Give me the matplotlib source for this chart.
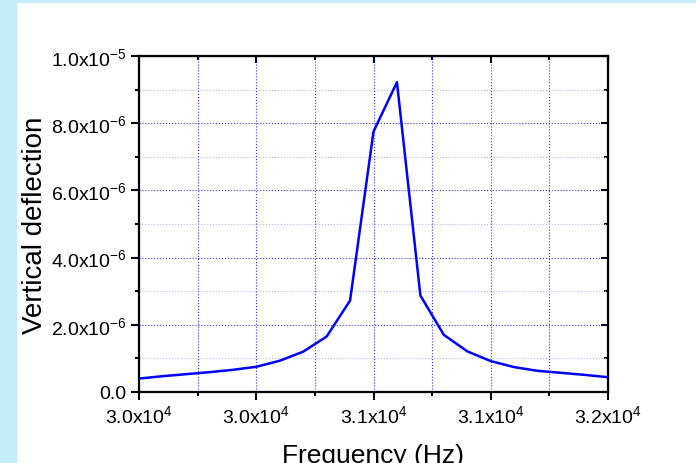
import numpy as np
import matplotlib.pyplot as plt
from matplotlib.patches import Rectangle
from matplotlib.ticker import FixedLocator, FixedFormatter, MultipleLocator

plt.rcParams['font.family'] = ['Liberation Sans', 'DejaVu Sans']
plt.rcParams['mathtext.fontset'] = 'custom'
plt.rcParams['mathtext.rm'] = 'Liberation Sans'

# sweep data (Hz, m)
freq = np.arange(30000, 32001, 100)
deflection = [0.40, 0.47, 0.53, 0.59, 0.66, 0.75, 0.93, 1.20, 1.65, 2.72,
              7.75, 9.22, 2.87, 1.70, 1.21, 0.92, 0.74, 0.63, 0.57, 0.51, 0.44]
deflection = np.array(deflection) * 1e-6

xticks = [30000, 30500, 31000, 31500, 32000]
xlabels = [r'$\mathregular{3.0x10^{4}}$', r'$\mathregular{3.0x10^{4}}$',
           r'$\mathregular{3.1x10^{4}}$', r'$\mathregular{3.1x10^{4}}$',
           r'$\mathregular{3.2x10^{4}}$']
yticks = [0, 2e-6, 4e-6, 6e-6, 8e-6, 1e-5]
ylabels = ['0.0', r'$\mathregular{2.0x10^{-6}}$', r'$\mathregular{4.0x10^{-6}}$',
           r'$\mathregular{6.0x10^{-6}}$', r'$\mathregular{8.0x10^{-6}}$',
           r'$\mathregular{1.0x10^{-5}}$']

fig = plt.figure(figsize=(6.96, 4.64), dpi=100)
fig.patch.set_facecolor('white')
# light blue frame strips
fig.patches.append(Rectangle((0, 0), 16/696, 1, transform=fig.transFigure,
                             color='#c6ebf9', zorder=-1))
fig.patches.append(Rectangle((0, 1 - 3/464), 1, 3/464, transform=fig.transFigure,
                             color='#c6ebf9', zorder=-1))

ax = fig.add_axes([139/696, 1 - 393/464, 469/696, 336/464])
ax.plot(freq, deflection, color='#0000ff', lw=1.8, zorder=3)

ax.set_xlim(30000, 32000)
ax.set_ylim(0, 1e-5)
ax.xaxis.set_major_locator(FixedLocator(xticks))
ax.xaxis.set_major_formatter(FixedFormatter(xlabels))
ax.xaxis.set_minor_locator(MultipleLocator(250))
ax.yaxis.set_major_locator(FixedLocator(yticks))
ax.yaxis.set_major_formatter(FixedFormatter(ylabels))
ax.yaxis.set_minor_locator(MultipleLocator(1e-6))

ax.grid(which='major', axis='both', color='#0000ff', linestyle=':', lw=0.8, alpha=0.8)
ax.grid(which='minor', axis='x', color='#0000ff', linestyle=':', lw=0.8, alpha=0.8)
ax.grid(which='minor', axis='y', color='#b8b8f0', linestyle=':', lw=0.8)

for s in ax.spines.values():
    s.set_linewidth(1.6)

ax.tick_params(which='both', direction='out', width=1.5, labelsize=14,
               top=False, right=False)
ax.tick_params(which='major', length=6, pad=3)
ax.tick_params(which='minor', length=3)

# inward ticks on top and right
sec = ax.secondary_xaxis('top')
sec.xaxis.set_major_locator(FixedLocator(xticks))
sec.xaxis.set_minor_locator(MultipleLocator(250))
sec.tick_params(which='both', direction='in', width=1.5, labeltop=False)
sec.tick_params(which='major', length=5)
sec.tick_params(which='minor', length=3)
secy = ax.secondary_yaxis('right')
secy.yaxis.set_major_locator(FixedLocator(yticks))
secy.yaxis.set_minor_locator(MultipleLocator(1e-6))
secy.tick_params(which='both', direction='in', width=1.5, labelright=False)
secy.tick_params(which='major', length=5)
secy.tick_params(which='minor', length=3)

ax.set_xlabel('Frequency (Hz)', fontsize=19, labelpad=12)
ax.set_ylabel('Vertical deflection', fontsize=20, labelpad=2)

fig.savefig('out.png', dpi=100)
